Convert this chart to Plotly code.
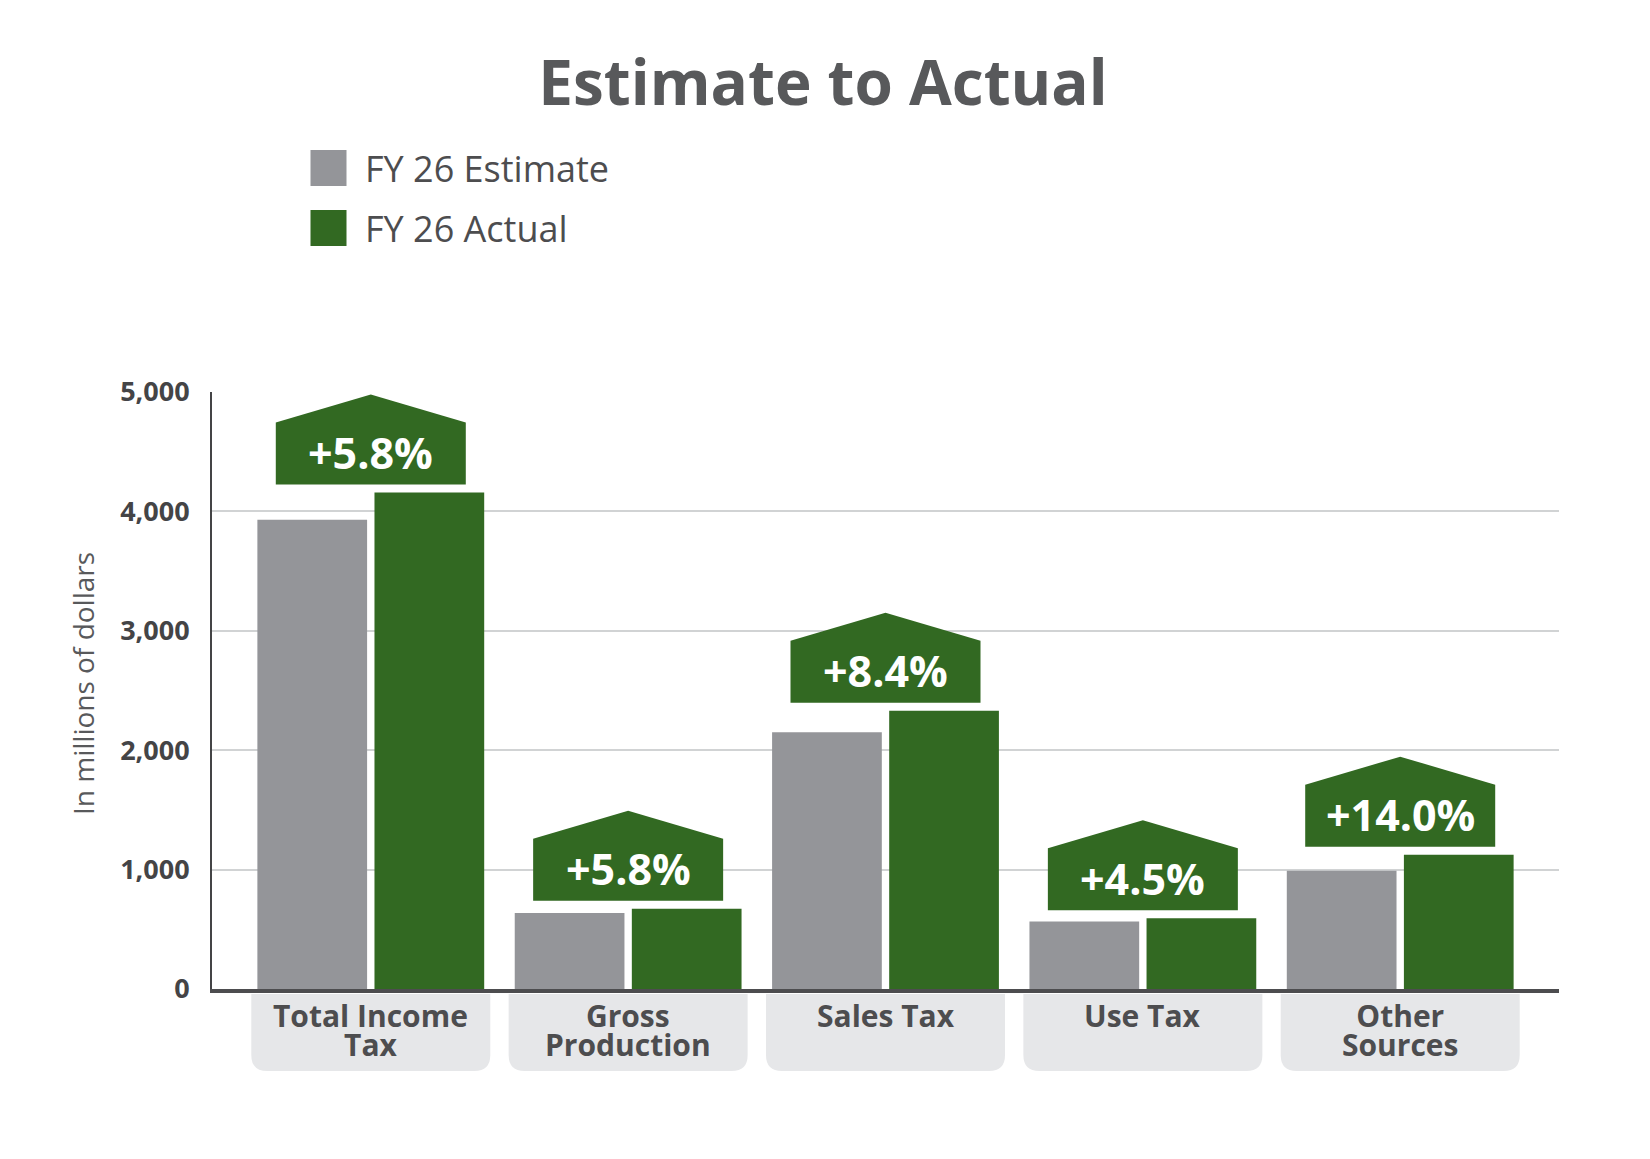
import plotly.graph_objects as go

# ---------------- data ----------------
categories = ["Total Income<br>Tax", "Gross<br>Production", "Sales Tax", "Use Tax", "Other<br>Sources"]
estimate = [3930, 637, 2150, 566, 990]
actual = [4158, 673, 2331, 592, 1125]
pct_labels = ["+5.8%", "+5.8%", "+8.4%", "+4.5%", "+14.0%"]
series_names = ["FY 26 Estimate", "FY 26 Actual"]
y_ticks = [0, 1000, 2000, 3000, 4000, 5000]

# ---------------- style ----------------
GRAY = "#949599"
GREEN = "#326922"
TEXT = "#4d4d4f"
TITLE = "#58595b"
BOX = "#e6e7e9"
FONT = "Open Sans"

W, H = 1650, 1159
ML, MR, MT, MB = 204, 99, 384, 178
PW, PH = W - ML - MR, H - MT - MB

xs = list(range(len(categories)))

fig = go.Figure()
fig.add_trace(go.Bar(x=xs, y=estimate, name=series_names[0], marker=dict(color=GRAY, line=dict(width=0)),
                     showlegend=False, hoverinfo="skip"))
fig.add_trace(go.Bar(x=xs, y=actual, name=series_names[1], marker=dict(color=GREEN, line=dict(width=0)),
                     showlegend=False, hoverinfo="skip"))

shapes = []
annotations = []

# badges above the actual bars
badge_path = "M -95,8 L 95,8 L 95,70 L 0,98 L -95,70 Z"
for i, (v, lab) in enumerate(zip(actual, pct_labels)):
    shapes.append(dict(type="path", xref="x", yref="y", xsizemode="pixel", ysizemode="pixel",
                       xanchor=i, yanchor=v, path=badge_path, fillcolor=GREEN,
                       line=dict(width=0), layer="above"))
    annotations.append(dict(x=i, y=v, xref="x", yref="y", text=lab, showarrow=False,
                            yshift=40, yanchor="middle", xanchor="center",
                            font=dict(family=FONT, size=43, color="white", weight="bold")))

# category label boxes below axis
box_path = ("M -119.5,-5 L 119.5,-5 L 119.5,-66 Q 119.5,-82 103.5,-82 "
            "L -103.5,-82 Q -119.5,-82 -119.5,-66 Z")
for i, cat in enumerate(categories):
    shapes.append(dict(type="path", xref="x", yref="paper", xsizemode="pixel", ysizemode="pixel",
                       xanchor=i, yanchor=0, path=box_path, fillcolor=BOX,
                       line=dict(width=0), layer="below"))
    lines = cat.split("<br>")
    # base font 22 sets a tight line spacing (1.3 * 22 px); glyphs drawn at 30 px
    txt = "<br>".join('<span style="font-size:30px">%s</span>' % ln for ln in lines)
    n = len(lines)
    annotations.append(dict(x=i, y=0, xref="x", yref="paper", text=txt, showarrow=False,
                            yshift=-26.5 - 14.3 * (n - 1), yanchor="middle", xanchor="center",
                            align="center",
                            font=dict(family=FONT, size=22, color=TEXT, weight="bold")))

# custom legend (large squares)
legend_colors = [GRAY, GREEN]
for k, (nm, col) in enumerate(zip(series_names, legend_colors)):
    y0 = 142 + 60 * k
    shapes.append(dict(type="rect", xref="paper", yref="paper",
                       x0=(302.5 - ML) / PW, x1=(338.5 - ML) / PW,
                       y0=1 - (y0 + 36 - MT) / PH, y1=1 - (y0 - MT) / PH,
                       fillcolor=col, line=dict(width=0)))
    annotations.append(dict(x=(355 - ML) / PW, y=1 - (y0 + 18 - MT) / PH,
                            xref="paper", yref="paper", text=nm, showarrow=False,
                            xanchor="left", yanchor="middle",
                            font=dict(family=FONT, size=36, color=TEXT, weight=500)))

# y axis title
annotations.append(dict(x=(75 - ML) / PW, y=1 - (676 - MT) / PH,
                        xref="paper", yref="paper", text="In millions of dollars", showarrow=False,
                        textangle=-90, xanchor="center", yanchor="middle",
                        font=dict(family=FONT, size=28, color=TITLE)))

fig.update_layout(
    width=W, height=H,
    margin=dict(l=ML, r=MR, t=MT, b=MB, autoexpand=False),
    paper_bgcolor="white", plot_bgcolor="white",
    barmode="group", bargap=0.09, bargroupgap=0.063,
    title=dict(text="Estimate to Actual", x=815 / W, xanchor="center", y=1 - 75 / H, yanchor="middle",
               font=dict(family=FONT, size=62, color=TITLE, weight="bold")),
    xaxis=dict(range=[-0.617, 4.617], showticklabels=False, showgrid=False, zeroline=False,
               showline=True, linecolor=TEXT, linewidth=4, ticks="", fixedrange=True),
    yaxis=dict(range=[0, 5000], tickvals=y_ticks, tickformat=",d", showgrid=True,
               gridcolor="#d1d3d4", gridwidth=2, zeroline=False, showline=True,
               linecolor="#444446", linewidth=2, ticks="", ticklabelstandoff=15,
               tickfont=dict(family=FONT, size=27, color="#444446", weight="bold")),
    shapes=shapes, annotations=annotations, showlegend=False,
)

fig.write_html("out.html")
